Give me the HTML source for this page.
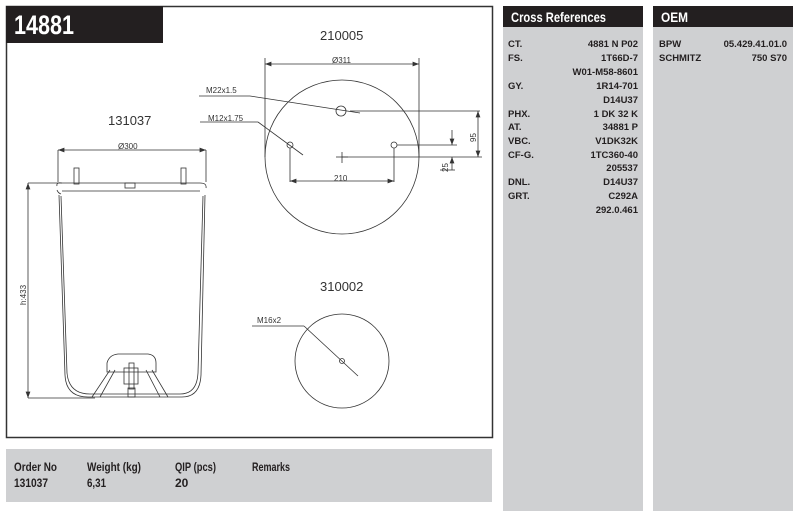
<!DOCTYPE html>
<html><head><style>
body{margin:0;width:800px;height:511px;background:#fff;overflow:hidden;font-family:"Liberation Sans",sans-serif}
.c{font-family:"Liberation Sans Narrow","Liberation Sans",sans-serif;font-weight:bold}
</style></head><body>
<svg width="800" height="511" viewBox="0 0 800 511" xmlns="http://www.w3.org/2000/svg">
<defs><marker id="a" markerWidth="8" markerHeight="6" refX="8" refY="3" orient="auto-start-reverse"><path d="M0,0L8,3L0,6z" fill="#333"/></marker></defs>
<rect x="6.5" y="6.5" width="486" height="431" fill="#fff" stroke="#333" stroke-width="1.5"/>
<rect x="6" y="6" width="157" height="37" fill="#231f20"/>
<text x="14" y="34" fill="#fff" class="c" font-size="27" textLength="60" lengthAdjust="spacingAndGlyphs">14881</text>
<g fill="#333" font-size="13"><text x="320" y="40">210005</text><text x="108" y="125">131037</text><text x="320" y="291">310002</text></g>
<g fill="#333" font-size="8"><text x="332" y="63">Ø311</text><text x="206" y="93">M22x1.5</text><text x="208" y="121">M12x1.75</text><text x="118" y="149">Ø300</text><text x="334" y="181">210</text><text x="257" y="323">M16x2</text>
<text transform="translate(476,142) rotate(-90)">95</text><text transform="translate(448,172) rotate(-90)">25</text><text transform="translate(26,305) rotate(-90)">h:433</text></g>
<g fill="none" stroke="#333" stroke-width="0.8">
<circle cx="342" cy="157" r="77"/><circle cx="342" cy="361" r="47"/>
<line x1="265" y1="58" x2="265" y2="157"/><line x1="419" y1="58" x2="419" y2="157"/>
<line x1="265" y1="64" x2="419" y2="64" marker-start="url(#a)" marker-end="url(#a)"/>
<line x1="199" y1="96" x2="250" y2="96"/><line x1="250" y1="96" x2="360" y2="113"/>
<circle cx="341" cy="111" r="5"/>
<line x1="350" y1="111" x2="480" y2="111"/><line x1="478" y1="111" x2="478" y2="157" marker-start="url(#a)" marker-end="url(#a)"/>
<line x1="200" y1="122" x2="258" y2="122"/><line x1="258" y1="122" x2="303" y2="155"/>
<circle cx="290" cy="145" r="3"/><circle cx="394" cy="145" r="3"/>
<line x1="290" y1="148" x2="290" y2="182"/><line x1="394" y1="148" x2="394" y2="182"/>
<line x1="290" y1="181" x2="394" y2="181" marker-start="url(#a)" marker-end="url(#a)"/>
<line x1="397" y1="145" x2="457" y2="145"/><line x1="342" y1="157" x2="482" y2="157"/>
<line x1="452" y1="130" x2="452" y2="145" marker-end="url(#a)"/><line x1="452" y1="170" x2="452" y2="157" marker-end="url(#a)"/><line x1="440" y1="170" x2="455" y2="170"/>
<line x1="342" y1="152" x2="342" y2="163"/><line x1="336" y1="157" x2="348" y2="157"/>
<line x1="252" y1="326" x2="304" y2="326"/><line x1="304" y1="326" x2="358" y2="376"/><circle cx="342" cy="361" r="2.5"/>
<line x1="58" y1="150" x2="58" y2="182"/><line x1="206" y1="150" x2="206" y2="182"/>
<line x1="58" y1="150" x2="206" y2="150" marker-start="url(#a)" marker-end="url(#a)"/>
<line x1="28" y1="183" x2="62" y2="183"/><line x1="28" y1="398" x2="95" y2="398"/>
<line x1="28" y1="183" x2="28" y2="398" marker-start="url(#a)" marker-end="url(#a)"/>
<path d="M57,186 Q56,182 62,183 L200,183 Q207,183 206,188 M62,191 L200,191 M57,190 Q58,193 61,194"/>
<path d="M59,195 L65,375 Q66,397 88,397 L182,397 Q200,397 201,375 L205,195"/>
<path d="M61,196 L67,373 Q69,394 90,394 L180,394 Q197,394 198,373 L203,196"/>
<rect x="74" y="168" width="5" height="16"/><rect x="181" y="168" width="5" height="16"/><rect x="125" y="183" width="10" height="5"/>
<path d="M92,397 L110,370 M100,397 L115,370 M168,397 L152,370 M160,397 L146,370"/>
<path d="M107,372 L107,363 Q109,355 118,354 L148,354 Q156,355 156,363 L156,372 Z"/>
<rect x="124" y="368" width="14" height="16"/><rect x="129" y="363" width="5" height="26"/><rect x="128" y="388" width="7" height="9"/>
</g>
<rect x="6" y="449" width="486" height="53" fill="#cfd0d2"/>
<g class="c" font-size="12" fill="#231f20" lengthAdjust="spacingAndGlyphs">
<text x="14" y="471" textLength="43" lengthAdjust="spacingAndGlyphs">Order No</text><text x="14" y="487" textLength="34" lengthAdjust="spacingAndGlyphs">131037</text>
<text x="87" y="471" textLength="54" lengthAdjust="spacingAndGlyphs">Weight (kg)</text><text x="87" y="487" textLength="19" lengthAdjust="spacingAndGlyphs">6,31</text>
<text x="175" y="471" textLength="41" lengthAdjust="spacingAndGlyphs">QIP (pcs)</text><text x="175" y="487">20</text>
<text x="252" y="471" textLength="38" lengthAdjust="spacingAndGlyphs">Remarks</text></g>
<rect x="503" y="6" width="140" height="505" fill="#cfd0d2"/>
<rect x="503" y="6" width="140" height="21" fill="#231f20"/>
<text x="511" y="22" fill="#fff" class="c" font-size="14" textLength="95" lengthAdjust="spacingAndGlyphs">Cross References</text>
<rect x="653" y="6" width="140" height="505" fill="#cfd0d2"/>
<rect x="653" y="6" width="140" height="21" fill="#231f20"/>
<text x="661" y="22" fill="#fff" class="c" font-size="14" textLength="27" lengthAdjust="spacingAndGlyphs">OEM</text>
<g class="c" font-size="9.5" fill="#231f20">
<text x="508" y="47">CT.</text><text x="508" y="61">FS.</text><text x="508" y="89">GY.</text><text x="508" y="117">PHX.</text><text x="508" y="130">AT.</text><text x="508" y="144">VBC.</text><text x="508" y="158">CF-G.</text><text x="508" y="185">DNL.</text><text x="508" y="199">GRT.</text>
<g text-anchor="end"><text x="638" y="47">4881 N P02</text><text x="638" y="61">1T66D-7</text><text x="638" y="75">W01-M58-8601</text><text x="638" y="89">1R14-701</text><text x="638" y="103">D14U37</text><text x="638" y="117">1 DK 32 K</text><text x="638" y="130">34881 P</text><text x="638" y="144">V1DK32K</text><text x="638" y="158">1TC360-40</text><text x="638" y="171">205537</text><text x="638" y="185">D14U37</text><text x="638" y="199">C292A</text><text x="638" y="213">292.0.461</text>
<text x="787" y="47">05.429.41.01.0</text><text x="787" y="61">750 S70</text></g>
<text x="659" y="47">BPW</text><text x="659" y="61">SCHMITZ</text></g>
</svg>
</body></html>
